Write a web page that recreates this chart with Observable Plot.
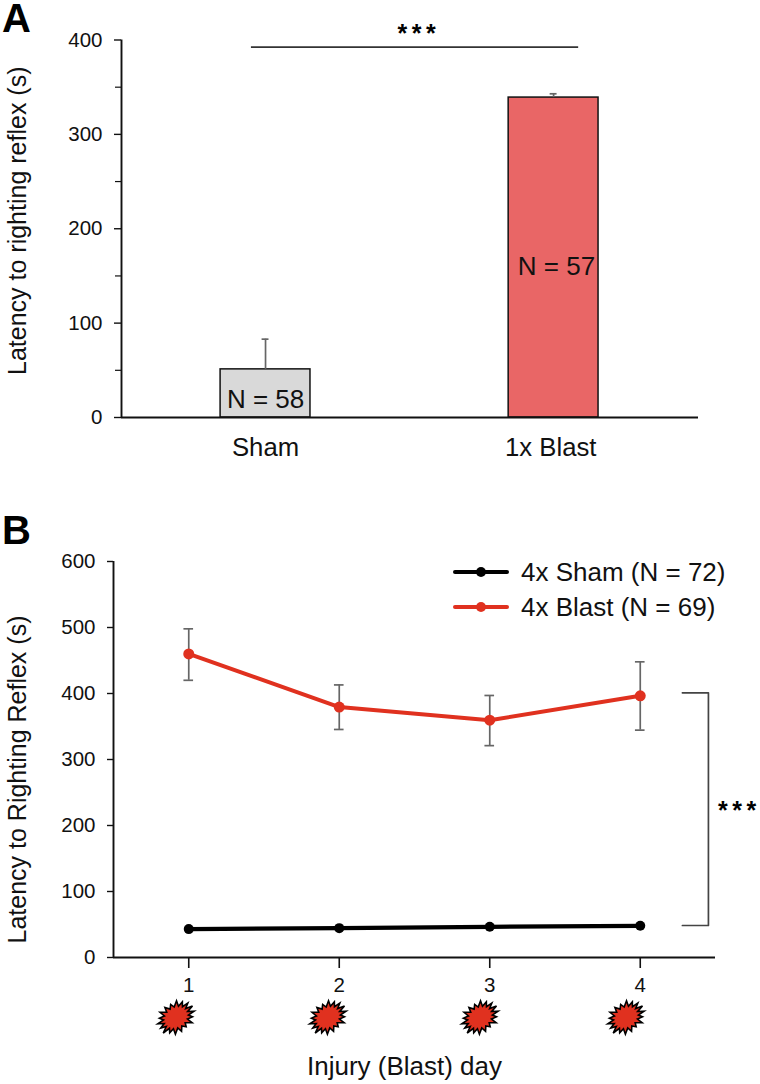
<!DOCTYPE html>
<html><head><meta charset="utf-8">
<script src="https://cdn.jsdelivr.net/npm/d3@7"></script>
<script src="https://cdn.jsdelivr.net/npm/@observablehq/plot@0.6"></script>
<style>
html,body{margin:0;padding:0;background:#fff;width:760px;height:1084px;overflow:hidden;font-family:"Liberation Sans",Arial,sans-serif;color:#111}
#wrap{position:relative;width:760px;height:1084px}
.panel{position:absolute;left:0}
.letter{position:absolute;font-weight:700;font-size:40px;line-height:36px;color:#000}
.sig{letter-spacing:4.5px}
.leg{position:absolute;left:453px;font-size:26px;line-height:30px;white-space:nowrap;height:30px}
.leg i{position:absolute;left:0;top:13px;width:56px;height:4px;border-radius:2px}
.leg b{position:absolute;left:23px;top:10px;width:10px;height:10px;border-radius:50%}
.leg span{position:absolute;left:68px;top:0}
</style></head><body><div id="wrap"></div>
<script>
// Panel A
const singleGroups = ["Sham", "1x Blast"];
const singleCounts = ["N = 58", "N = 57"];
const singleMeans = [51, 339];
const singleUpper = [83, 343];
const singleFills = ["#d9d9d9", "#e96666"];
const singleSig = [-0.049, 1.087];
const singleSigY = 392.5;
const countLabelY = [19, 160];
const countLabelX = [0, 1.01];
const groupLabelX = [0, 0.99];
// Panel B
const days = [1, 2, 3, 4];
const shamMeans = [43, 44.5, 46.5, 48];
const blastMeans = [460, 379.5, 359.5, 396.5];
const blastUpper = [498, 413, 397, 448];
const blastLower = [420, 345.5, 321, 344.5];
const burstDays = [0.915, 1.925, 2.935, 3.905];
const bracketX = [4.28, 4.453, 4.453, 4.28];
const bracketY = [401, 401, 48.5, 48.5];
const sigLabel = "***";
const ink = "#111", grey = "#666";
const FONT = '"Liberation Sans",Arial,sans-serif';

const spikeRadii = [1,.98,.9,1.02,.88,.95,1,.9,1.02,.92,.98,.9,1,.95,.9,1,.92,.95];
const burst = {draw(ctx, size){
  const r = Math.sqrt(size/Math.PI);
  const tilt = -35*Math.PI/180, sx = 1.12, sy = .86, n = spikeRadii.length;
  for (let i=0;i<2*n;i++){
    const k = i%2 ? .66 : spikeRadii[i/2];
    const t = i*Math.PI/n, px = k*r*Math.cos(t)*sx, py = k*r*Math.sin(t)*sy;
    const X = px*Math.cos(tilt)-py*Math.sin(tilt), Y = px*Math.sin(tilt)+py*Math.cos(tilt);
    i? ctx.lineTo(X,Y): ctx.moveTo(X,Y);
  }
  ctx.closePath();
}};

const idx = singleGroups.map((_,i)=>i);
const barHalf = 0.156, capHalf = 0.012;
const plotA = Plot.plot({
  width:760, height:480, marginLeft:121, marginRight:62, marginTop:39.5, marginBottom:63,
  style:{fontFamily:FONT, background:"transparent"},
  x:{domain:[-0.5,1.503], axis:null}, y:{domain:[0,400]},
  marks:[
    Plot.rect(idx,{x1:i=>i-barHalf,x2:i=>i+barHalf,y1:0,y2:i=>singleMeans[i],fill:i=>singleFills[i],stroke:"#111",strokeWidth:1.5}),
    Plot.ruleX(idx,{x:i=>i,y1:i=>singleMeans[i],y2:i=>singleUpper[i],stroke:grey,strokeWidth:1.7}),
    Plot.ruleY(idx,{y:i=>singleUpper[i],x1:i=>i-capHalf,x2:i=>i+capHalf,stroke:grey,strokeWidth:1.7}),
    Plot.ruleX([-0.5],{stroke:ink,strokeWidth:1.9}),
    Plot.ruleY([0],{stroke:ink,strokeWidth:1.9}),
    Plot.ruleY([singleSigY],{x1:singleSig[0],x2:singleSig[1],stroke:"#333",strokeWidth:1.7}),
    Plot.text([sigLabel],{x:0.532,y:singleSigY,dy:-13,fontSize:25,fontWeight:700,fill:"#000",className:"sig"}),
    Plot.text(idx,{x:i=>countLabelX[i],y:i=>countLabelY[i],text:i=>singleCounts[i],fontSize:26,fill:"#111"}),
    Plot.axisY({ticks:[0,100,200,300,400],tickSize:7,tickPadding:12,fontSize:20.5,label:null,color:ink,strokeWidth:1.4,tickFormat:d=>d}),
    Plot.axisY({ticks:[50,150,250,350],tickSize:6,tickFormat:()=>"",label:null,color:ink,strokeWidth:1.2}),
    Plot.text(idx,{x:i=>groupLabelX[i],y:0,dy:30,text:i=>singleGroups[i],fontSize:25.7,fill:"#111"}),
    Plot.text(["Latency to righting reflex (s)"],{frameAnchor:"left",textAnchor:"middle",rotate:-90,dx:-104,dy:-8,fontSize:25,fill:"#111"})
  ]
});

const sham = days.map((d,i)=>({d,v:shamMeans[i]}));
const blast = days.map((d,i)=>({d,v:blastMeans[i],u:blastUpper[i],l:blastLower[i]}));
const bracket = bracketX.map((x,i)=>({x,y:bracketY[i]}));
const dCap = 0.032;
const plotB = Plot.plot({
  width:760, height:564, marginLeft:113, marginRight:45, marginTop:41, marginBottom:127,
  style:{fontFamily:FONT, background:"transparent"},
  x:{domain:[0.5,4.5]}, y:{domain:[0,600]},
  marks:[
    Plot.ruleX(blast,{x:"d",y1:"l",y2:"u",stroke:grey,strokeWidth:1.7}),
    Plot.ruleY(blast,{y:"u",x1:d=>d.d-dCap,x2:d=>d.d+dCap,stroke:grey,strokeWidth:1.7}),
    Plot.ruleY(blast,{y:"l",x1:d=>d.d-dCap,x2:d=>d.d+dCap,stroke:grey,strokeWidth:1.7}),
    Plot.ruleX([0.5],{stroke:ink,strokeWidth:1.9}),
    Plot.ruleY([0],{stroke:ink,strokeWidth:1.9}),
    Plot.line(sham,{x:"d",y:"v",stroke:"#000",strokeWidth:4.2}),
    Plot.dot(sham,{x:"d",y:"v",r:5,fill:"#000"}),
    Plot.line(blast,{x:"d",y:"v",stroke:"#e0311f",strokeWidth:4}),
    Plot.dot(blast,{x:"d",y:"v",r:5.5,fill:"#e0311f"}),
    Plot.line(bracket,{x:"x",y:"y",stroke:"#444",strokeWidth:1.7,curve:"linear"}),
    Plot.text([sigLabel],{x:4.453,y:222,dx:31,fontSize:25,fontWeight:700,fill:"#000",className:"sig"}),
    Plot.dot(burstDays,{x:d=>d,y:0,dy:60,r:18,symbol:burst,fill:"#e0311f",stroke:"#000",strokeWidth:1.6}),
    Plot.axisY({ticks:d3.range(0,601,100),tickSize:6,tickPadding:12,fontSize:20.5,label:null,color:ink,strokeWidth:1.4,tickFormat:d=>d}),
    Plot.axisX({ticks:days,tickSize:11,tickPadding:9,fontSize:20.5,label:null,color:ink,strokeWidth:1.6,tickFormat:d=>d}),
    Plot.text(["Latency to Righting Reflex (s)"],{frameAnchor:"left",textAnchor:"middle",rotate:-90,dx:-96,dy:20,fontSize:25,fill:"#111"}),
    Plot.text(["Injury (Blast) day"],{frameAnchor:"bottom",dy:117,dx:-10,fontSize:26,fill:"#111"})
  ]
});

const wrap = document.getElementById("wrap");
function add(node, top){ node.classList.add("panel"); node.style.top = top+"px"; wrap.appendChild(node); }
add(plotA, 0); add(plotB, 520);
function letter(t, left, top){ const el=document.createElement("div"); el.className="letter"; el.textContent=t; el.style.left=left+"px"; el.style.top=top+"px"; wrap.appendChild(el); }
letter("A", 2, 0); letter("B", 2, 512);
const legendRows = [["4x Sham (N = 72)","#000",557],["4x Blast (N = 69)","#e0311f",592]];
for (const [t,c,top] of legendRows){
  const el=document.createElement("div"); el.className="leg"; el.style.top=top+"px";
  el.innerHTML=`<i style="background:${c}"></i><b style="background:${c}"></b><span>${t}</span>`;
  wrap.appendChild(el);
}
</script></body></html>
